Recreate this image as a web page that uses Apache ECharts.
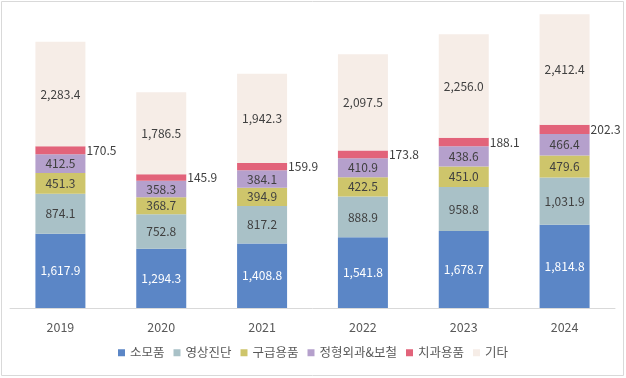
<!DOCTYPE html>
<html><head><meta charset="utf-8">
<script src="https://cdn.jsdelivr.net/npm/echarts@6/dist/echarts.min.js"></script>
<style>html,body{margin:0;padding:0;background:#fff;}#c{width:626px;height:378px;}</style>
</head><body><div id="c"></div>
<script>
const categories = ['2019','2020','2021','2022','2023','2024'];
const seriesNames = ['소모품','영상진단','구급용품','정형외과&보철','치과용품','기타'];
const consumables = [1617.9,1294.3,1408.8,1541.8,1678.7,1814.8];
const imaging = [874.1,752.8,817.2,888.9,958.8,1031.9];
const firstAid = [451.3,368.7,394.9,422.5,451.0,479.6];
const orthopedic = [412.5,358.3,384.1,410.9,438.6,466.4];
const dental = [170.5,145.9,159.9,173.8,188.1,202.3];
const others = [2283.4,1786.5,1942.3,2097.5,2256.0,2412.4];
const values = [consumables, imaging, firstAid, orthopedic, dental, others];
const colors = ['#5b86c6','#a9c1c7','#cec56b','#b5a0cc','#e2637a','#f6ede7'];
const font = '"Noto Sans CJK KR", "Noto Sans", sans-serif';
const fmt = v => v.toLocaleString('en-US',{minimumFractionDigits:1,maximumFractionDigits:1});

const series = values.map((arr,i)=>({
  name: seriesNames[i], type:'bar', stack:'total', data: arr, barWidth: 50,
  itemStyle:{color:colors[i]},
  label:{show:true, position: i===4 ? 'right' : 'inside', distance: i===4 ? 1 : 5,
    color: i===0 ? '#ffffff' : '#404040', fontSize:12, fontFamily:font,
    formatter: p => fmt(p.value)}
}));

const chart = echarts.init(document.getElementById('c'));
chart.setOption({
  animation:false,
  graphic:[{type:'rect', shape:{x:1.5,y:1.5,width:622,height:374}, style:{fill:'none', stroke:'#d9d9d9', lineWidth:1}, silent:true}],
  grid:{left:10,right:11,top:10,bottom:70},
  legend:{bottom:14, left:'center', itemWidth:7, itemHeight:7, itemGap:9, icon:'rect',
    textStyle:{fontSize:12.5, color:'#595959', fontFamily:font}, data:seriesNames},
  xAxis:{type:'category', data:categories,
    axisLine:{lineStyle:{color:'#d9d9d9'}}, axisTick:{show:false},
    axisLabel:{color:'#595959', fontSize:12.5, margin:13, fontFamily:font}},
  yAxis:{type:'value', min:0, max:6500, show:false, splitLine:{show:false}},
  series
});
</script></body></html>
